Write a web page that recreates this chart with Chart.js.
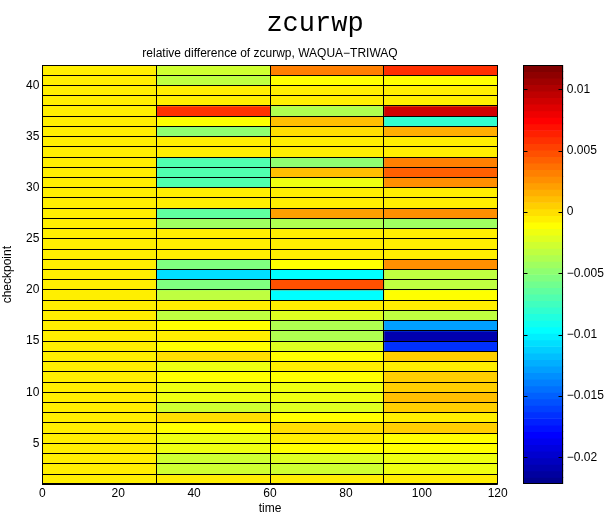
<!DOCTYPE html>
<html>
<head>
<meta charset="utf-8">
<script src="https://cdn.jsdelivr.net/npm/chart.js@4.4.1/dist/chart.umd.min.js"></script>
<style>
html,body{margin:0;padding:0;background:#fff;}
#wrap{position:relative;width:605px;height:512px;overflow:hidden;}
#wrap canvas{position:absolute;left:0;top:0;}
</style>
</head>
<body>
<div id="wrap">
<canvas id="main" width="605" height="512"></canvas>
<canvas id="cbar" width="605" height="512"></canvas>
</div>
<script>
// ---------------- data ----------------
const timeEdges = [0, 30, 60, 90, 120];
const checkpointEdges = [1,2,3,4,5,6,7,8,9,10,11,12,13,14,15,16,17,18,19,20,21,22,23,24,25,26,27,28,29,30,31,32,33,34,35,36,37,38,39,40,41,42];
const checkpoints = [1,2,3,4,5,6,7,8,9,10,11,12,13,14,15,16,17,18,19,20,21,22,23,24,25,26,27,28,29,30,31,32,33,34,35,36,37,38,39,40,41];
// relative difference per checkpoint cell (checkpoint 1 .. 41), one array per time interval
const diffT0 = [-0.0005,-0.0005,-0.0005,-0.0005,-0.0005,-0.0005,-0.0005,-0.0005,-0.0005,-0.0005,
                -0.0005,-0.0005,-0.0005,-0.0005,-0.0005,-0.0005,-0.0005,-0.0005,-0.0005,-0.0005,
                -0.0005,-0.0005,-0.0005,-0.0005,-0.0005,-0.0005,-0.0005,-0.0005,-0.0005,-0.0005,
                -0.0005,-0.0005,-0.0005,-0.0005,-0.0005,-0.0005,-0.0005,-0.0005,-0.0005,-0.0005,-0.0005];
const diffT30 = [-0.0005,-0.0026,-0.0026,-0.0016,-0.0016,-0.0011,0.0000,-0.0026,-0.0016,-0.0016,
                 -0.0011,-0.0016,0.0000,-0.0011,-0.0005,-0.0011,-0.0032,-0.0005,-0.0032,-0.0054,
                 -0.0107,-0.0054,-0.0005,-0.0005,-0.0005,-0.0045,-0.0064,-0.0005,-0.0005,-0.0070,
                 -0.0070,-0.0070,-0.0005,-0.0005,-0.0048,-0.0011,0.0058,-0.0005,-0.0005,-0.0032,-0.0027];
const diffT60 = [-0.0005,-0.0026,-0.0024,-0.0011,-0.0005,0.0000,-0.0011,-0.0024,-0.0016,-0.0016,
                 -0.0011,-0.0005,-0.0011,-0.0022,-0.0038,-0.0038,-0.0022,-0.0005,-0.0096,0.0048,
                 -0.0096,-0.0011,-0.0005,-0.0005,-0.0005,-0.0038,0.0021,-0.0005,-0.0005,-0.0016,
                 0.0008,-0.0048,-0.0005,-0.0005,0.0000,0.0010,-0.0038,-0.0005,-0.0005,-0.0011,0.0032];
const diffT90 = [-0.0005,-0.0016,-0.0016,-0.0011,-0.0011,0.0005,-0.0005,0.0006,0.0012,0.0006,
                 0.0005,-0.0005,0.0005,-0.0166,-0.0206,-0.0128,-0.0032,-0.0005,-0.0011,-0.0030,
                 -0.0032,0.0026,-0.0005,-0.0005,-0.0005,-0.0045,0.0026,-0.0005,-0.0005,0.0024,
                 0.0042,0.0031,-0.0005,-0.0005,0.0018,-0.0078,0.0090,-0.0005,-0.0005,-0.0011,0.0058];
const xTicks = [0, 20, 40, 60, 80, 100, 120];
const yTicks = [5, 10, 15, 20, 25, 30, 35, 40];
const cbMin = -0.02217, cbMax = 0.01198;
const cbTicks = [-0.02, -0.015, -0.01, -0.005, 0, 0.005, 0.01];
const cbTickLabels = ['\u22120.02', '\u22120.015', '\u22120.01', '\u22120.005', '0', '0.005', '0.01'];
const columns = [diffT0, diffT30, diffT60, diffT90];

// ---------------- MATLAB jet(64) colormap ----------------
function jetMap(m) {
  const n = Math.ceil(m / 4);
  const u = [];
  for (let i = 1; i <= n; i++) u.push(i / n);
  for (let i = 1; i < n; i++) u.push(1);
  for (let i = n; i >= 1; i--) u.push(i / n);
  const J = Array.from({length: m}, () => [0, 0, 0]);
  const off = Math.ceil(n / 2) - (m % 4 === 1 ? 1 : 0);
  const g = u.map((_, i) => off + i + 1);
  const r = g.map(v => v + n).filter(v => v <= m);
  const b = g.map(v => v - n).filter(v => v >= 1);
  const gg = g.filter(v => v <= m);
  r.forEach((idx, i) => J[idx - 1][0] = u[i]);
  gg.forEach((idx, i) => J[idx - 1][1] = u[i]);
  b.forEach((idx, i) => J[idx - 1][2] = u[u.length - b.length + i]);
  return J.map(c => 'rgb(' + c.map(v => Math.round(v * 255)).join(',') + ')');
}
const JET = jetMap(64);
function colorFor(v) {
  let i = Math.floor((v - cbMin) / (cbMax - cbMin) * 64);
  i = Math.max(0, Math.min(63, i));
  return JET[i];
}

const SANS = "'Liberation Sans', Arial, Helvetica, sans-serif";
Chart.defaults.font.family = SANS;
Chart.defaults.font.size = 12;
Chart.defaults.color = '#000';

const framePlugin = {
  id: 'frame',
  afterDraw(chart) {
    const a = chart.chartArea, ctx = chart.ctx;
    ctx.save();
    ctx.strokeStyle = '#000';
    ctx.lineWidth = 1;
    const l = Math.round(a.left) + 0.5, t = Math.round(a.top) + 0.5;
    const r = Math.round(a.right) - 0.5, b = Math.round(a.bottom) - 0.5;
    ctx.strokeRect(l, t, r - l, b - t);
    ctx.restore();
  }
};

const edgeAxis = (min, max, edges, pos) => ({
  type: 'linear', position: pos, min: min, max: max, offset: false,
  grid: {display: true, drawTicks: false, color: '#000', lineWidth: 1, offset: false, z: 1},
  border: {display: false},
  ticks: {display: false},
  afterBuildTicks: s => { s.ticks = edges.map(v => ({value: v})); },
  afterFit: s => { if (s.isHorizontal()) s.height = 0; else s.width = 0; }
});

// ---------------- main heat map ----------------
new Chart(document.getElementById('main'), {
  type: 'bar',
  data: {
    datasets: columns.map((vals, c) => ({
      label: 't' + timeEdges[c],
      data: checkpoints.map(cp => ({y: cp + 0.5, x: [timeEdges[c], timeEdges[c + 1]]})),
      backgroundColor: vals.map(colorFor),
      borderWidth: 0,
      inflateAmount: 0.3,
      grouped: false,
      barPercentage: 1,
      categoryPercentage: 1
    }))
  },
  options: {
    indexAxis: 'y',
    responsive: false,
    animation: false,
    devicePixelRatio: 1,
    layout: {padding: {left: 25, right: 0, top: 0, bottom: 0}},
    plugins: {
      legend: {display: false},
      tooltip: {enabled: false},
      title: {
        display: true, text: 'zcurwp', fullSize: true, color: '#000',
        font: {family: "'Liberation Mono', 'DejaVu Sans Mono', monospace", size: 27, weight: 'normal'},
        padding: {top: 7.6, bottom: 0}
      },
      subtitle: {
        display: true, text: 'relative difference of zcurwp, WAQUA\u2212TRIWAQ', fullSize: false, color: '#000',
        font: {size: 12, weight: 'normal'},
        padding: {top: 6.1, bottom: 4.5}
      }
    },
    scales: {
      x: {
        type: 'linear', position: 'bottom', min: 0, max: 120, offset: false,
        grid: {display: false, drawTicks: false},
        border: {display: false},
        ticks: {padding: 2, color: '#000', font: {size: 12}},
        afterBuildTicks: s => { s.ticks = xTicks.map(v => ({value: v})); },
        afterFit: s => { s.height = 27.7; },
        title: {display: true, text: 'time', color: '#000', font: {size: 12}, padding: {top: 0, bottom: -4}}
      },
      y: {
        type: 'linear', position: 'left', min: 1, max: 42, offset: false,
        grid: {display: false, drawTicks: false},
        border: {display: false},
        ticks: {padding: 3, color: '#000', font: {size: 12}},
        afterBuildTicks: s => { s.ticks = yTicks.map(v => ({value: v})); },
        afterFit: s => { s.width = 17.3; },
        title: {display: true, text: 'checkpoint', color: '#000', font: {size: 12}, padding: {top: -24.2, bottom: 0}}
      },
      xEdges: edgeAxis(0, 120, timeEdges, 'top'),
      yEdges: edgeAxis(1, 42, checkpointEdges, 'left'),
      yRight: {
        type: 'linear', position: 'right', display: true,
        grid: {display: false, drawTicks: false},
        border: {display: false},
        ticks: {display: false},
        afterFit: s => { s.width = 107.3; }
      }
    }
  },
  plugins: [framePlugin]
});

// ---------------- colour bar ----------------
const cbBins = JET.map((col, i) => ({
  lo: cbMin + (cbMax - cbMin) * i / 64,
  hi: cbMin + (cbMax - cbMin) * (i + 1) / 64,
  color: col
}));

const cbFramePlugin = {
  id: 'cbframe',
  afterDraw(chart) {
    const a = chart.chartArea, ctx = chart.ctx, ys = chart.scales.y;
    ctx.save();
    ctx.strokeStyle = '#000';
    ctx.lineWidth = 1;
    const l = Math.round(a.left) + 0.5, t = Math.round(a.top) + 0.5;
    const r = Math.round(a.right) - 0.5, b = Math.round(a.bottom) - 0.5;
    ctx.strokeRect(l, t, r - l, b - t);
    ctx.beginPath();
    cbTicks.forEach(v => {
      const py = Math.round(ys.getPixelForValue(v)) + 0.5;
      ctx.moveTo(l, py); ctx.lineTo(l + 4, py);
      ctx.moveTo(r, py); ctx.lineTo(r - 4, py);
    });
    ctx.stroke();
    ctx.restore();
  }
};

new Chart(document.getElementById('cbar'), {
  type: 'bar',
  data: {
    labels: ['cb'],
    datasets: [{
      data: cbBins.map(b => ({x: 'cb', y: [b.lo, b.hi]})),
      backgroundColor: cbBins.map(b => b.color),
      borderWidth: 0,
      grouped: false,
      barPercentage: 1,
      categoryPercentage: 1
    }]
  },
  options: {
    responsive: false,
    animation: false,
    devicePixelRatio: 1,
    layout: {padding: {left: 523.3, top: 65, bottom: 28, right: 0}},
    plugins: {legend: {display: false}, tooltip: {enabled: false}},
    scales: {
      x: {type: 'category', offset: true, display: false},
      y: {
        type: 'linear', position: 'right', min: cbMin, max: cbMax,
        grid: {display: false, drawTicks: false},
        border: {display: false},
        ticks: {padding: 3.5, color: '#000', font: {size: 12}, callback: (v, i) => cbTickLabels[i]},
        afterBuildTicks: s => { s.ticks = cbTicks.map(v => ({value: v})); },
        afterFit: s => { s.width = 41.7; }
      }
    }
  },
  plugins: [cbFramePlugin]
});
</script>
</body>
</html>
